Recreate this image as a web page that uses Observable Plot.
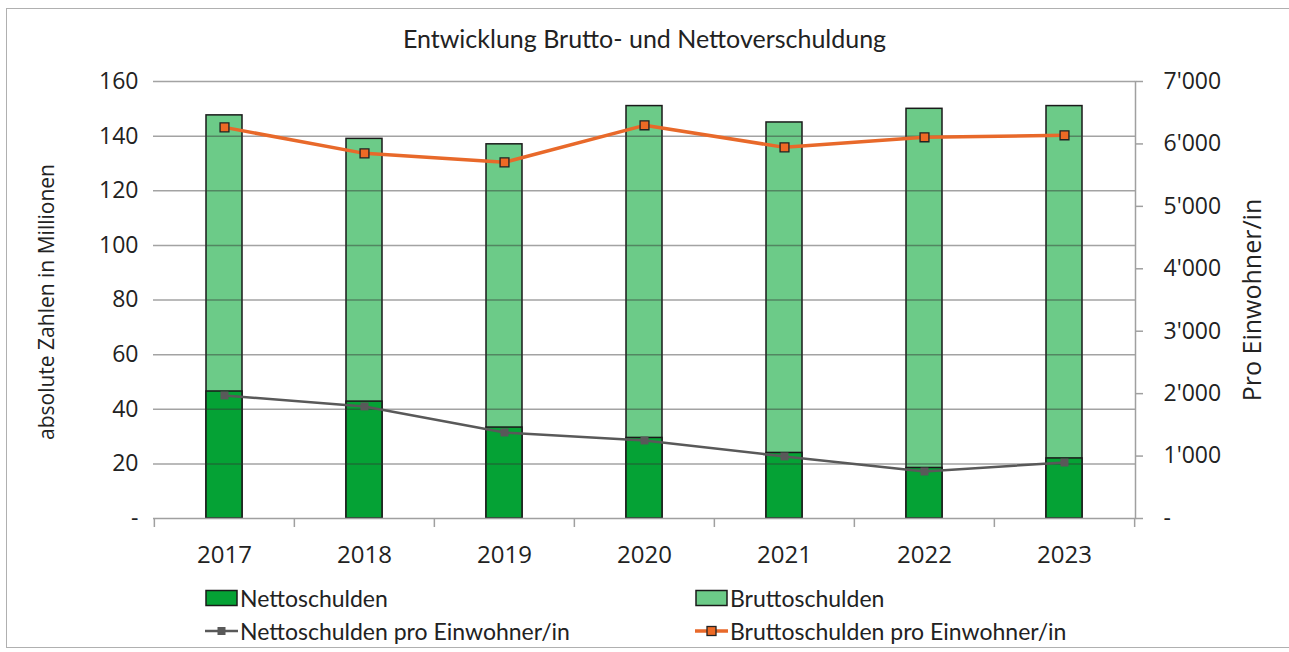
<!DOCTYPE html>
<html><head><meta charset="utf-8">
<script src="https://cdn.jsdelivr.net/npm/d3@7"></script>
<script src="https://cdn.jsdelivr.net/npm/@observablehq/plot@0.6"></script>
<style>
body{margin:0;background:#fff;width:1289px;height:652px;overflow:hidden;position:relative;font-family:"Open Sans",sans-serif;}
#border{position:absolute;left:6px;top:8px;width:1290px;height:640px;border:1.5px solid #b0b0b0;box-sizing:border-box;}
#title{position:absolute;top:23px;left:0;width:1289px;text-align:center;font-family:Lato,sans-serif;font-size:25px;color:#222;}
.ytitle{position:absolute;white-space:nowrap;color:#222;transform:translate(-50%,-50%) rotate(-90deg);}
#chart svg{position:absolute;left:0;top:0;}
.leg{position:absolute;font-family:Lato,sans-serif;font-size:23px;color:#222;display:flex;align-items:center;white-space:nowrap;}
.leg svg{margin-right:2px;}
</style></head>
<body>
<div id="border"></div>
<div id="title">Entwicklung Brutto- und Nettoverschuldung</div>
<div id="chart"></div>
<div class="ytitle" style="left:46px;top:302px;font-size:21px;">absolute Zahlen in Millionen</div>
<div class="ytitle" style="left:1251px;top:300px;font-size:25px;">Pro Einwohner/in</div>
<div class="leg" style="left:205px;top:584px;"><svg width="33" height="18"><rect x="1" y="1.5" width="31" height="15" fill="#05a235" stroke="#1a1a1a" stroke-width="1.5"/></svg>Nettoschulden</div>
<div class="leg" style="left:695px;top:584px;"><svg width="33" height="18"><rect x="1" y="1.5" width="31" height="15" fill="#6ccb88" stroke="#1a1a1a" stroke-width="1.5"/></svg>Bruttoschulden</div>
<div class="leg" style="left:205px;top:617px;"><svg width="33" height="18"><line x1="0" y1="9" x2="33" y2="9" stroke="#595959" stroke-width="2.5"/><rect x="12.5" y="5" width="8" height="8" fill="#595959"/></svg>Nettoschulden pro Einwohner/in</div>
<div class="leg" style="left:695px;top:617px;"><svg width="33" height="18"><line x1="0" y1="9" x2="33" y2="9" stroke="#e8692a" stroke-width="3.5"/><rect x="12" y="4.5" width="9" height="9" fill="#ee6a25" stroke="#222" stroke-width="1.3"/></svg>Bruttoschulden pro Einwohner/in</div>
<script>
const years = ["2017", "2018", "2019", "2020", "2021", "2022", "2023"];
const netto = [46.5, 42.8, 33.3, 29.5, 24.0, 18.5, 22.0];
const brutto = [147.6, 139.0, 137.0, 151.0, 145.0, 150.0, 151.0];
const nettoPC = [1971, 1795, 1378, 1250, 994, 753, 897];
const bruttoPC = [6265, 5849, 5705, 6298, 5945, 6106, 6138];
const leftTicks = [0, 20, 40, 60, 80, 100, 120, 140, 160];
const rightTicks = [0, 1000, 2000, 3000, 4000, 5000, 6000, 7000];

const data = years.map((year, i) => ({year, netto: netto[i], brutto: brutto[i], nettoPC: nettoPC[i], bruttoPC: bruttoPC[i]}));
const k = 160 / 7000;
const fmt = d3.formatLocale({decimal: ".", thousands: "'", grouping: [3], currency: ["", ""]}).format(",d");

const W = 1289, H = 575, mL = 153, mR = 154, mT = 81, mB = 57;
const step = (W - mL - mR) / years.length;

const chart = Plot.plot({
  width: W, height: H,
  marginLeft: mL, marginRight: mR, marginTop: mT, marginBottom: mB,
  style: {fontFamily: "Open Sans", fontSize: "23px", color: "#222", background: "transparent"},
  x: {domain: years, paddingInner: 0.74, paddingOuter: 0.37},
  y: {domain: [0, 160]},
  marks: [
    Plot.barY(data, {x: "year", y: "brutto", fill: "#6ccb88", stroke: "#1a1a1a", strokeWidth: 1.5}),
    Plot.barY(data, {x: "year", y: "netto", fill: "#05a235", stroke: "#1a1a1a", strokeWidth: 1.5}),
    Plot.ruleY(leftTicks.filter(d => d > 0), {stroke: "#333", strokeOpacity: 0.45, strokeWidth: 1.5}),
    Plot.ruleY([0], {stroke: "#a0a0a0", strokeWidth: 1.5}),
    Plot.frame({anchor: "right", stroke: "#a0a0a0", strokeWidth: 1.5}),
    Plot.line(data, {x: "year", y: d => d.nettoPC * k, stroke: "#595959", strokeWidth: 2.5}),
    Plot.dot(data, {x: "year", y: d => d.nettoPC * k, symbol: "square", r: 4.5, fill: "#595959", stroke: "none"}),
    Plot.line(data, {x: "year", y: d => d.bruttoPC * k, stroke: "#e8692a", strokeWidth: 3.5}),
    Plot.dot(data, {x: "year", y: d => d.bruttoPC * k, symbol: "square", r: 5, fill: "#ee6a25", stroke: "#222", strokeWidth: 1.3}),
    Plot.axisY({ticks: leftTicks, tickFormat: d => d === 0 ? "-" : fmt(d), tickSize: 0, tickPadding: 15, fontSize: 23, label: null}),
    Plot.axisY({anchor: "right", ticks: rightTicks.map(v => v * k), text: null, tickSize: 7, stroke: "#a0a0a0", strokeWidth: 1.5, label: null}),
    Plot.axisY({anchor: "right", ticks: rightTicks.map(v => v * k), tickFormat: v => { const val = Math.round(v / k); return val === 0 ? "-" : fmt(val); }, tickSize: 0, tickPadding: 28, fontSize: 23, label: null}),
    Plot.axisX({tickSize: 0, tickPadding: 27, fontSize: 24, label: null}),
    Plot.axisX({text: null, tickSize: 9, dx: -step / 2, stroke: "#a0a0a0", strokeWidth: 1.5, label: null}),
    Plot.axisX({ticks: [years[years.length - 1]], text: null, tickSize: 9, dx: step / 2, stroke: "#a0a0a0", strokeWidth: 1.5, label: null})
  ]
});
document.getElementById("chart").appendChild(chart);
</script>
</body></html>
